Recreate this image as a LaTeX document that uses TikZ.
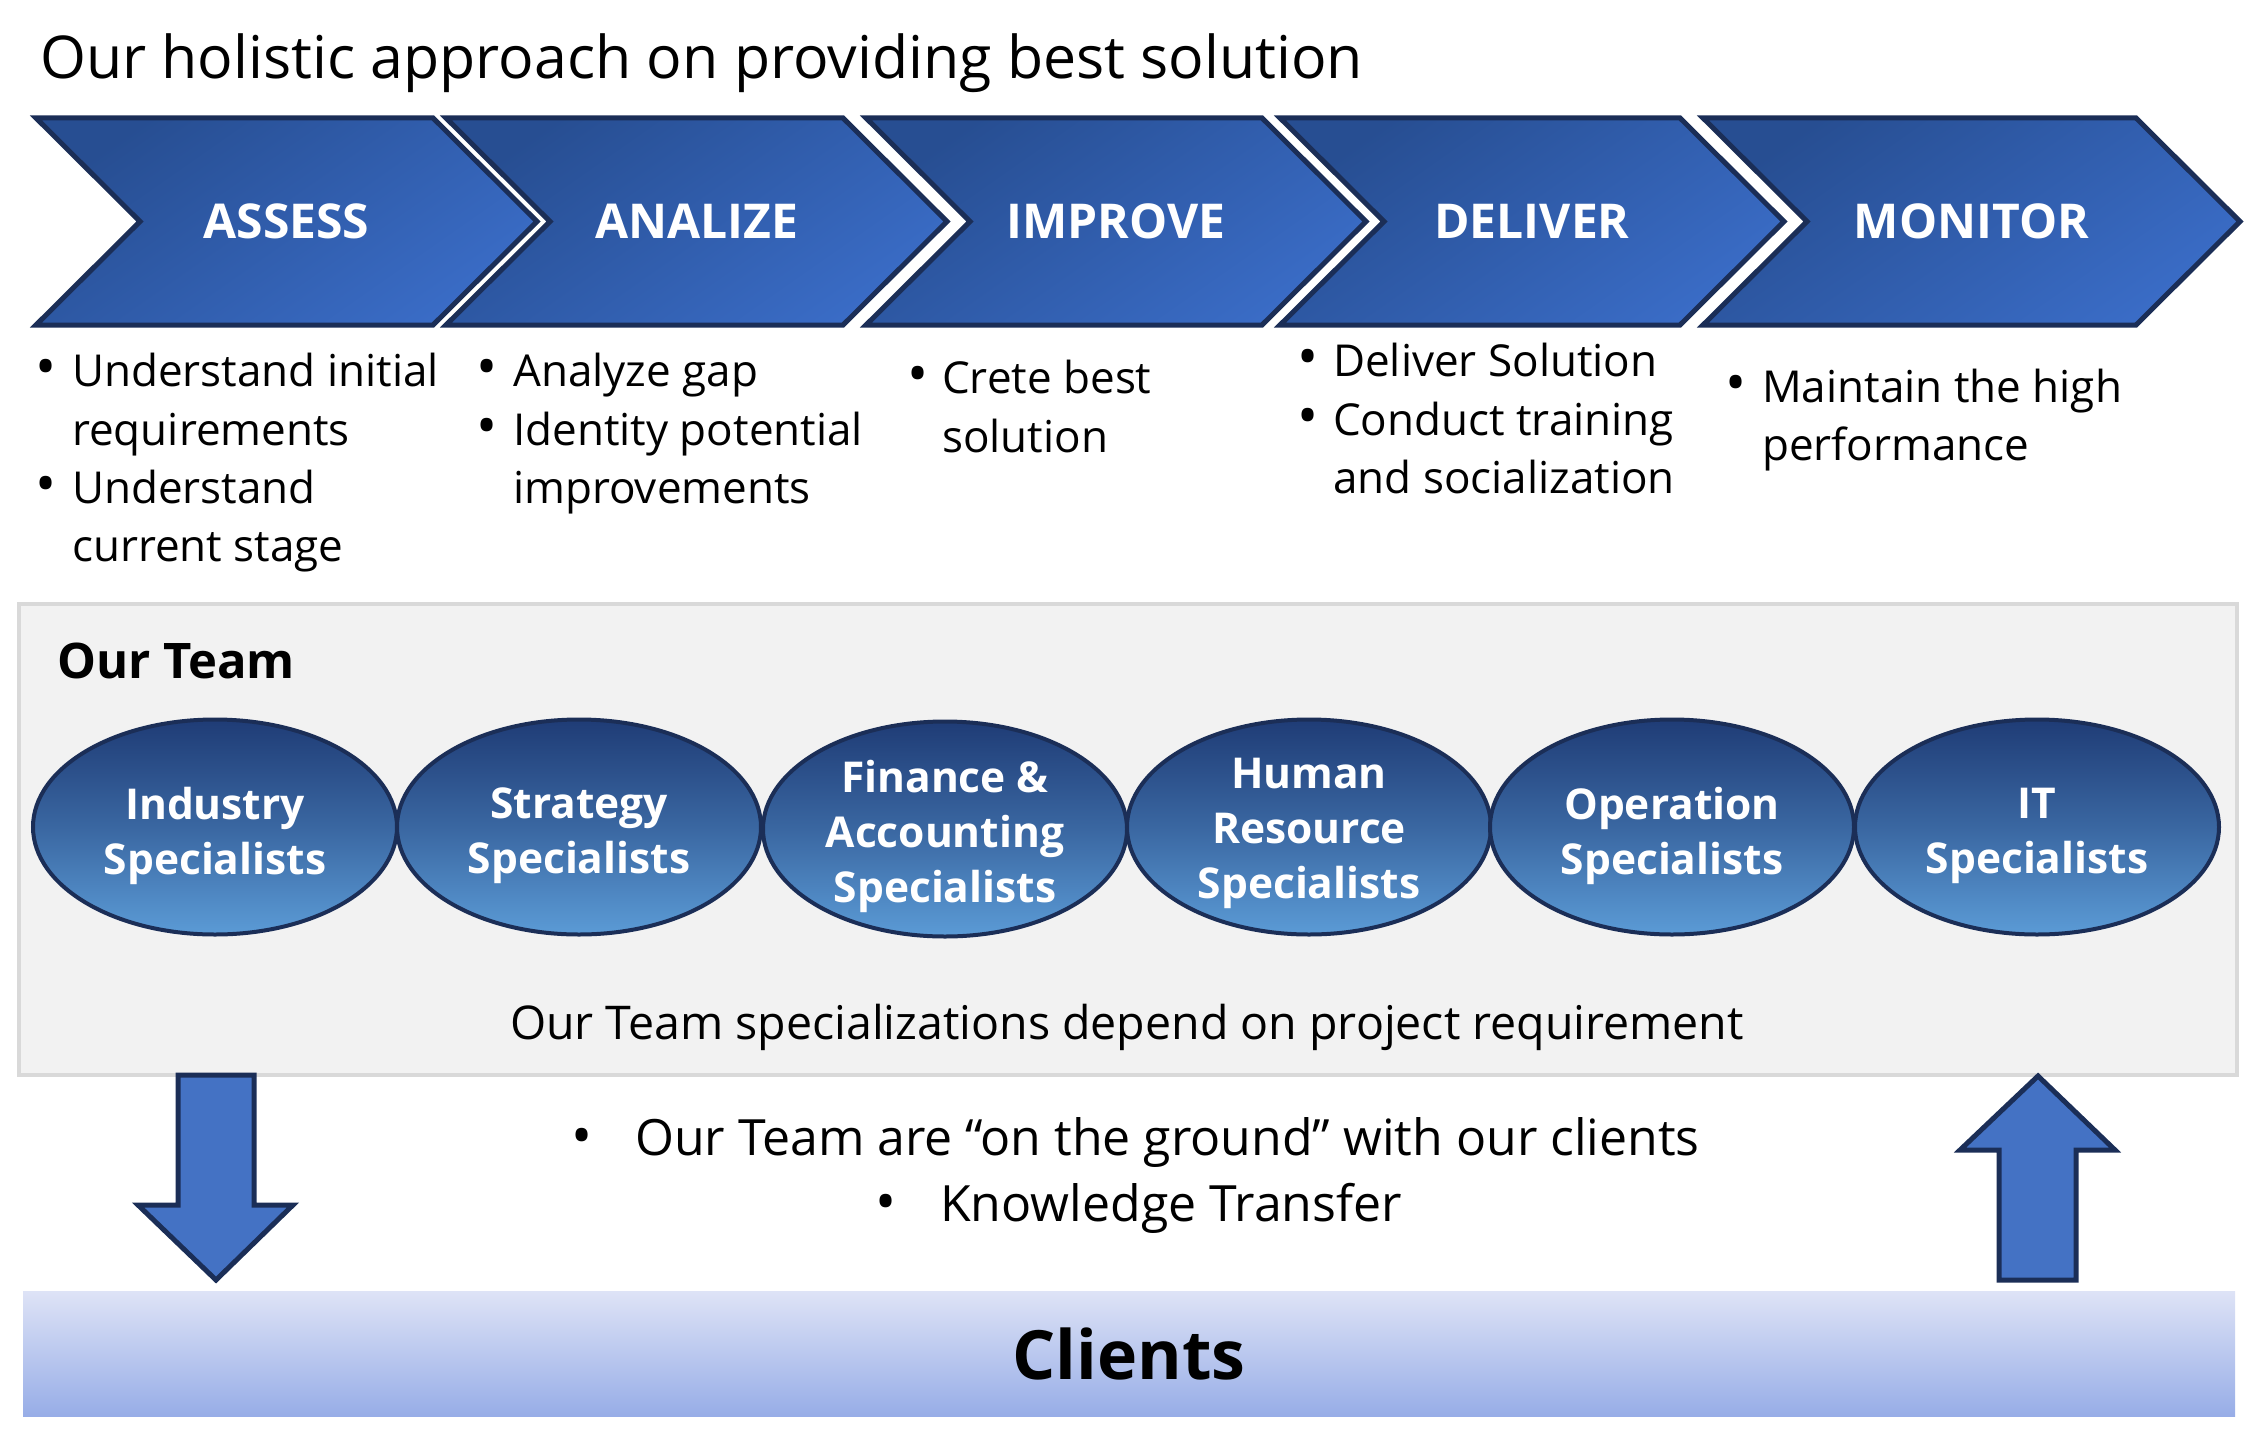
\documentclass[tikz,border=0pt]{standalone}
\usepackage{fontspec}
\setmainfont{Open Sans}
\usetikzlibrary{shapes.geometric}
\definecolor{navy}{HTML}{1B2E57}
\definecolor{chevA}{HTML}{274E92}
\definecolor{chevB}{HTML}{3A6CC6}
\definecolor{ellA}{HTML}{1F3C76}
\definecolor{ellB}{HTML}{5B9BD6}
\definecolor{arrowblue}{HTML}{4472C4}
\definecolor{boxgray}{HTML}{F2F2F2}
\definecolor{boxline}{HTML}{D9D9D9}
\definecolor{cliA}{HTML}{DEE3F6}
\definecolor{cliB}{HTML}{97ADE7}
\newcommand\chevron[4]{%
  \draw[chevshape] (#1,118) -- ++(#2,0) -- ++(104,103.5) -- ++(-104,103.5) -- ++(-#2,0) -- ++(104,-103.5) -- cycle;
  \node[chevlabel] (#3) at ({#1+52+#2/2},221.5) {#4};}
\begin{document}
\begin{tikzpicture}[x=1pt,y=-1pt,
  chevshape/.style={draw=navy,line width=5pt,line join=miter,top color=chevA,bottom color=chevB,shading angle=35},
  chevlabel/.style={text=white,font=\fontsize{48}{52}\selectfont\bfseries,inner sep=0pt},
  bodytext/.style={anchor=base west,inner sep=0pt,font=\fontsize{44}{50}\selectfont},
  bullet/.style={anchor=base,inner sep=0pt,font=\fontsize{56}{60}\selectfont},
  specialist/.style={ellipse,draw=navy,line width=4pt,top color=ellA,bottom color=ellB,middle color=ellA!55!ellB,
    minimum width=364pt,minimum height=215pt,inner sep=0pt},
  spectext/.style={inner sep=0pt,align=center,text=white,font=\fontsize{42.5}{55}\selectfont\bfseries},
  bigarrow/.style={draw=navy,line width=5pt,fill=arrowblue,line join=miter}]
\useasboundingbox (0,0) rectangle (2248,1442);
% title
\node[anchor=base west,inner sep=0pt,font=\fontsize{59}{64}\selectfont] (title) at (40,79) {Our holistic approach on providing best solution};
% chevrons
\chevron{36}{397}{assess}{ASSESS}
\chevron{446}{397}{analize}{ANALIZE}
\chevron{866}{396}{improve}{IMPROVE}
\chevron{1280}{400}{deliver}{DELIVER}
\chevron{1703}{433}{monitor}{MONITOR}
% column 1
\node[bullet] (k1) at (46,386) {•};
\node[bodytext] (t1a) at (72,386) {Understand initial};
\node[bodytext] (t1b) at (72,445) {requirements};
\node[bullet] (k1b) at (46,503) {•};
\node[bodytext] (t1c) at (72,503) {Understand};
\node[bodytext] (t1d) at (72,561) {current stage};
% column 2
\node[bullet] (k2) at (487,386) {•};
\node[bodytext] (t2a) at (513,386) {Analyze gap};
\node[bullet] (k2b) at (487,445) {•};
\node[bodytext] (t2b) at (513,445) {Identity potential};
\node[bodytext] (t2c) at (513,503) {improvements};
% column 3
\node[bullet] (k3) at (918,393) {•};
\node[bodytext] (t3a) at (942,393) {Crete best};
\node[bodytext] (t3b) at (942,452) {solution};
% column 4
\node[bullet] (k4) at (1308,376) {•};
\node[bodytext] (t4a) at (1333,376) {Deliver Solution};
\node[bullet] (k4b) at (1308,435) {•};
\node[bodytext] (t4b) at (1333,435) {Conduct training};
\node[bodytext] (t4c) at (1333,493) {and socialization};
% column 5
\node[bullet] (k5) at (1736,402) {•};
\node[bodytext] (t5a) at (1762,402) {Maintain the high};
\node[bodytext] (t5b) at (1762,460) {performance};
% team box
\node[draw=boxline,fill=boxgray,line width=4pt,minimum width=2218pt,minimum height=471pt,inner sep=0pt] (team) at (1128,839.5) {};
\node[anchor=base west,inner sep=0pt,font=\fontsize{49}{52}\selectfont\bfseries] (teamtitle) at (57,678) {Our Team};
\node[specialist] (e1) at (215,827) {};
\node[specialist] (e2) at (579,827) {};
\node[specialist] (e3) at (945,829) {};
\node[specialist] (e4) at (1309,827) {};
\node[specialist] (e5) at (1672,827) {};
\node[specialist] (e6) at (2037,827) {};
\node[spectext] (e1t) at ([yshift=-9pt]e1.center) {Industry\\Specialists};
\node[spectext] (e2t) at ([yshift=-9pt]e2.center) {Strategy\\Specialists};
\node[spectext] (e3t) at ([yshift=-7pt]e3.center) {Finance \&\\Accounting\\Specialists};
\node[spectext] (e4t) at ([yshift=-6pt]e4.center) {Human\\Resource\\Specialists};
\node[spectext] (e5t) at ([yshift=-9pt]e5.center) {Operation\\Specialists};
\node[spectext] (e6t) at ([yshift=-9pt]e6.center) {IT\\Specialists};
\node[anchor=base,inner sep=0pt,font=\fontsize{46.5}{50}\selectfont] (teamnote) at (1127,1039) {Our Team specializations depend on project requirement};
% clients bar
\node[top color=cliA,bottom color=cliB,minimum width=2212pt,minimum height=125pt,inner sep=0pt] (clientsbar) at (1129,1353.5) {};
\node[anchor=base,inner sep=0pt,font=\fontsize{68}{72}\selectfont\bfseries] (clients) at (1129,1379) {Clients};
% arrows
\draw[bigarrow] (178,1075) -- (254,1075) -- (254,1205) -- (293,1205) -- (216,1280) -- (138,1205) -- (178,1205) -- cycle;
\draw[bigarrow] (2038,1076) -- (2115,1150) -- (2076,1150) -- (2076,1280) -- (1999,1280) -- (1999,1150) -- (1960,1150) -- cycle;
% middle bullets
\node[bullet] (m1k) at (582,1155) {•};
\node[anchor=base west,inner sep=0pt,font=\fontsize{50}{54}\selectfont] (m1) at (635,1155) {Our Team are “on the ground” with our clients};
\node[bullet] (m2k) at (886,1221) {•};
\node[anchor=base west,inner sep=0pt,font=\fontsize{50}{54}\selectfont] (m2) at (940,1221) {Knowledge Transfer};
\end{tikzpicture}
\end{document}
